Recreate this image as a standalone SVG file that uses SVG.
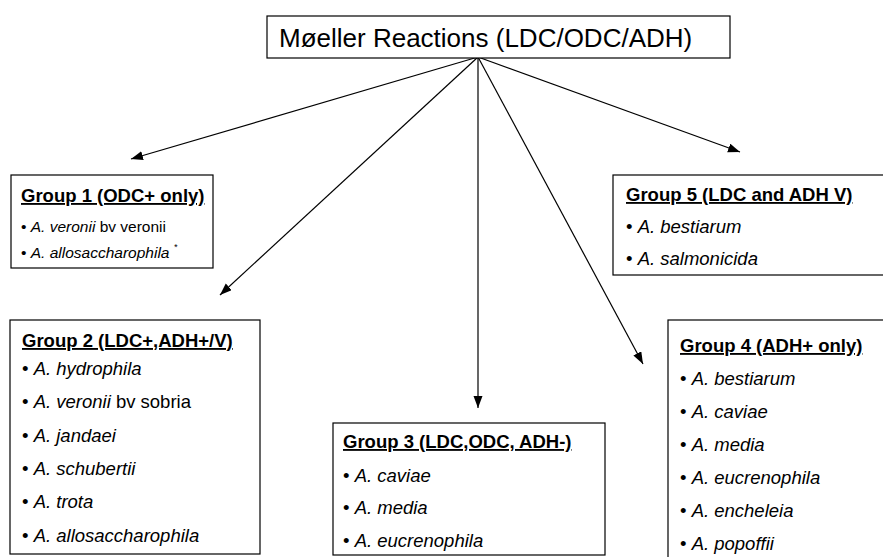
<svg xmlns="http://www.w3.org/2000/svg" width="883" height="557" viewBox="0 0 883 557">
<style>
.box{fill:#fff;stroke:#000;stroke-width:1.2}
text{font-family:"Liberation Sans",Arial,sans-serif;fill:#000}
.ttl{font-size:26px}
.h{font-size:18.5px;font-weight:bold;text-decoration:underline}
.i{font-size:18.5px}
.s{font-size:15.5px}
.it{font-style:italic}
.sup{font-size:9px;font-style:italic}
#connectors line{stroke:#000;stroke-width:1.2;marker-end:url(#ah)}
</style>
<defs>
<marker id="ah" markerUnits="userSpaceOnUse" markerWidth="13" markerHeight="10" refX="12" refY="4.5" orient="auto">
<path d="M0,0 L12,4.5 L0,9 z" fill="#000"/>
</marker>
</defs>
<rect width="883" height="557" fill="#fff"/>
<g id="connectors">
<line x1="478" y1="57" x2="131" y2="159"/>
<line x1="478" y1="57" x2="220" y2="295"/>
<line x1="478" y1="57" x2="478" y2="408"/>
<line x1="478" y1="57" x2="643" y2="364"/>
<line x1="478" y1="57" x2="740" y2="152"/>
</g>
<g id="root">
<rect class="box" x="267" y="16" width="463" height="42"/>
<text class="ttl" x="279" y="47">Møeller Reactions (LDC/ODC/ADH)</text>
</g>
<g id="group1">
<rect class="box" x="11" y="175" width="202" height="93"/>
<text class="h" x="21" y="202">Group 1 (ODC+ only)</text>
<text class="s" x="21" y="232">• <tspan class="it">A. veronii</tspan> bv veronii</text>
<text class="s" x="21" y="258">• <tspan class="it">A. allosaccharophila</tspan> <tspan class="sup" dy="-8">*</tspan></text>
</g>
<g id="group2">
<rect class="box" x="10" y="320" width="250" height="234"/>
<text class="h" x="22" y="347">Group 2 (LDC+,ADH+/V)</text>
<text class="i" x="22" y="375">• <tspan class="it">A. hydrophila</tspan></text>
<text class="i" x="22" y="408">• <tspan class="it">A. veronii</tspan> bv sobria</text>
<text class="i" x="22" y="442">• <tspan class="it">A. jandaei</tspan></text>
<text class="i" x="22" y="475">• <tspan class="it">A. schubertii</tspan></text>
<text class="i" x="22" y="508">• <tspan class="it">A. trota</tspan></text>
<text class="i" x="22" y="542">• <tspan class="it">A. allosaccharophila</tspan></text>
</g>
<g id="group3">
<rect class="box" x="333" y="423" width="272" height="132"/>
<text class="h" x="343" y="448">Group 3 (LDC,ODC, ADH-)</text>
<text class="i" x="343" y="482">• <tspan class="it">A. caviae</tspan></text>
<text class="i" x="343" y="514">• <tspan class="it">A. media</tspan></text>
<text class="i" x="343" y="547">• <tspan class="it">A. eucrenophila</tspan></text>
</g>
<g id="group4">
<rect class="box" x="668" y="320" width="230" height="250"/>
<text class="h" x="680" y="352">Group 4 (ADH+ only)</text>
<text class="i" x="680" y="385">• <tspan class="it">A. bestiarum</tspan></text>
<text class="i" x="680" y="418">• <tspan class="it">A. caviae</tspan></text>
<text class="i" x="680" y="451">• <tspan class="it">A. media</tspan></text>
<text class="i" x="680" y="484">• <tspan class="it">A. eucrenophila</tspan></text>
<text class="i" x="680" y="517">• <tspan class="it">A. encheleia</tspan></text>
<text class="i" x="680" y="550">• <tspan class="it">A. popoffii</tspan></text>
</g>
<g id="group5">
<rect class="box" x="613" y="175" width="285" height="100"/>
<text class="h" x="626" y="201">Group 5 (LDC and ADH V)</text>
<text class="i" x="626" y="233">• <tspan class="it">A. bestiarum</tspan></text>
<text class="i" x="626" y="265">• <tspan class="it">A. salmonicida</tspan></text>
</g>
</svg>
